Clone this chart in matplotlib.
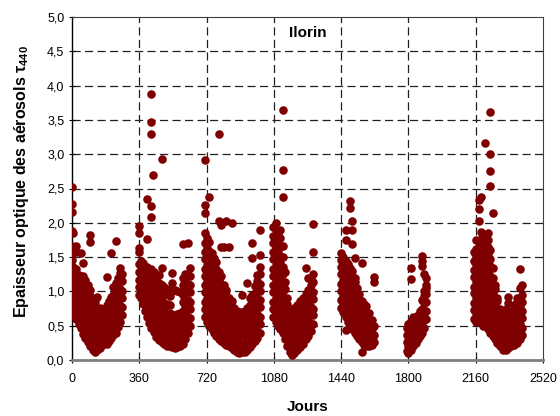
import matplotlib
matplotlib.use("Agg")
import matplotlib.pyplot as plt
from matplotlib.ticker import FixedLocator, FuncFormatter

plt.rcParams['font.family'] = ['Liberation Sans', 'DejaVu Sans']
plt.rcParams['mathtext.fontset'] = 'custom'
plt.rcParams['mathtext.bf'] = 'Liberation Sans:bold'
plt.rcParams['mathtext.rm'] = 'Liberation Sans'

# ---- data: day columns and AOD (tau 440) readings per season ----
days_1 = [0, 6, 14, 24, 35, 47, 60, 72, 85, 98, 110, 122, 135, 148, 160, 172, 185, 198, 210, 222, 234, 246, 258, 270]
aod_1 = [
    [0.70, 0.83, 0.92, 1.06, 1.17, 1.31, 1.46, 1.55, 1.66, 1.88, 2.16, 2.27, 2.52],
    [0.77, 0.87, 1.01, 1.11, 1.25, 1.36, 1.85],
    [0.66, 0.79, 0.89, 1.03, 1.13, 1.27],
    [0.60, 0.71, 0.85, 0.95, 1.09, 1.19, 1.32, 1.57, 1.66],
    [0.52, 0.65, 0.75, 0.89, 0.99, 1.13, 1.24],
    [0.46, 0.57, 0.71, 0.81, 0.95, 1.05, 1.18, 1.56],
    [0.38, 0.51, 0.61, 0.75, 0.85, 0.99, 1.09, 1.22, 1.41],
    [0.32, 0.43, 0.57, 0.67, 0.81, 0.91, 1.05, 1.16],
    [0.26, 0.39, 0.49, 0.63, 0.73, 0.87, 0.97, 1.10],
    [0.20, 0.31, 0.45, 0.55, 0.69, 0.79, 0.93, 1.02, 1.72, 1.82],
    [0.15, 0.28, 0.38, 0.52, 0.62, 0.76, 0.88],
    [0.12, 0.23, 0.37, 0.47, 0.61, 0.71, 0.84],
    [0.14, 0.27, 0.37, 0.51, 0.61, 0.74, 0.92],
    [0.18, 0.29, 0.43, 0.53, 0.67, 0.76],
    [0.22, 0.35, 0.45, 0.59, 0.70],
    [0.25, 0.36, 0.50, 0.60, 0.73],
    [0.24, 0.37, 0.47, 0.61, 0.71, 0.80, 1.21],
    [0.28, 0.39, 0.53, 0.63, 0.77, 0.86],
    [0.32, 0.45, 0.55, 0.69, 0.79, 0.92, 1.56],
    [0.36, 0.47, 0.61, 0.71, 0.85, 0.95, 1.06],
    [0.40, 0.53, 0.63, 0.77, 0.87, 1.01, 1.12, 1.74],
    [0.48, 0.59, 0.73, 0.83, 0.97, 1.07, 1.20],
    [0.56, 0.69, 0.79, 0.93, 1.03, 1.17, 1.27, 1.34],
    [0.66, 0.77, 0.91, 1.01, 1.15, 1.26],
]

days_2 = [360, 368, 378, 390, 402, 414, 425, 432, 438, 452, 466, 480, 494, 508, 522, 536, 550, 564, 578, 592, 605, 618, 630]
aod_2 = [
    [0.95, 1.07, 1.16, 1.29, 1.40, 1.58, 1.63, 1.85, 1.96],
    [0.90, 1.00, 1.14, 1.24, 1.37, 1.45],
    [0.82, 0.95, 1.04, 1.19, 1.29, 1.41],
    [0.72, 0.83, 0.97, 1.07, 1.21, 1.33],
    [0.62, 0.75, 0.85, 0.99, 1.09, 1.23, 1.35, 1.77, 2.35],
    [0.54, 0.65, 0.79, 0.89, 1.03, 1.13, 1.27],
    [0.47, 0.60, 0.70, 0.84, 0.94, 1.08, 1.18, 1.33, 2.09, 2.24, 3.30, 3.47, 3.88],
    [2.69],
    [0.41, 0.52, 0.66, 0.76, 0.90, 1.00, 1.14, 1.28],
    [0.34, 0.47, 0.57, 0.71, 0.81, 0.95, 1.05, 1.18],
    [0.29, 0.40, 0.54, 0.64, 0.78, 0.88, 1.02, 1.12, 1.24],
    [0.26, 0.39, 0.49, 0.63, 0.73, 0.87, 0.97, 1.10, 1.34, 2.93],
    [0.23, 0.34, 0.48, 0.58, 0.72, 0.82, 0.96, 1.07],
    [0.21, 0.34, 0.44, 0.58, 0.68, 0.82, 0.96],
    [0.20, 0.31, 0.45, 0.55, 0.69, 0.80, 0.93, 1.04],
    [0.19, 0.32, 0.42, 0.56, 0.66, 1.00, 1.12, 1.27],
    [0.18, 0.29, 0.43, 0.53, 0.65, 1.02],
    [0.19, 0.32, 0.42, 0.56, 0.67, 1.00],
    [0.21, 0.32, 0.46, 0.56, 0.69, 0.99],
    [0.24, 0.37, 0.47, 0.61, 0.71, 0.85, 0.95, 1.09, 1.20, 1.69],
    [0.30, 0.41, 0.55, 0.65, 0.79, 0.89, 1.03, 1.13, 1.25],
    [0.40, 0.53, 0.63, 0.77, 0.87, 1.01, 1.11, 1.24, 1.70],
    [0.50, 0.61, 0.75, 0.85, 0.99, 1.09, 1.23, 1.34],
]

days_3 = [712, 722, 735, 748, 760, 772, 785, 798, 812, 826, 840, 854, 868, 882, 896, 910, 924, 938, 952, 964, 978, 992, 1005]
aod_3 = [
    [0.62, 0.75, 0.85, 0.99, 1.09, 1.23, 1.33, 1.47, 1.57, 1.71, 1.85, 2.14, 2.26, 2.91],
    [0.56, 0.67, 0.81, 0.91, 1.05, 1.15, 1.29, 1.39, 1.53, 1.63, 1.78],
    [0.50, 0.63, 0.73, 0.87, 0.97, 1.11, 1.21, 1.35, 1.45, 1.59, 1.72, 2.38],
    [0.45, 0.56, 0.70, 0.80, 0.94, 1.04, 1.18, 1.28, 1.42, 1.56],
    [0.40, 0.53, 0.63, 0.77, 0.87, 1.01, 1.11, 1.25, 1.35, 1.48],
    [0.35, 0.46, 0.60, 0.70, 0.84, 0.94, 1.08, 1.18, 1.32, 1.43],
    [0.31, 0.44, 0.54, 0.68, 0.78, 0.92, 1.02, 1.16, 1.28, 2.02, 3.29],
    [0.28, 0.39, 0.53, 0.63, 0.77, 0.87, 1.01, 1.11, 1.22, 1.65, 1.97],
    [0.25, 0.38, 0.48, 0.62, 0.72, 0.86, 0.96, 1.09, 1.65],
    [0.22, 0.33, 0.47, 0.57, 0.71, 0.81, 0.95, 1.02, 2.02],
    [0.20, 0.33, 0.43, 0.57, 0.67, 0.81, 0.90, 1.64],
    [0.18, 0.29, 0.43, 0.53, 0.67, 0.77, 0.86, 2.00],
    [0.15, 0.28, 0.38, 0.52, 0.62, 0.76],
    [0.12, 0.23, 0.37, 0.47, 0.61, 0.72],
    [0.10, 0.23, 0.33, 0.47, 0.57, 0.70],
    [0.11, 0.22, 0.36, 0.46, 0.60, 0.70, 0.95],
    [0.12, 0.25, 0.35, 0.49, 0.59, 0.72],
    [0.15, 0.26, 0.40, 0.50, 0.64, 0.76, 1.12],
    [0.19, 0.32, 0.42, 0.56, 0.66, 0.80, 0.91],
    [0.23, 0.34, 0.48, 0.58, 0.72, 0.82, 0.95, 1.48, 1.70],
    [0.27, 0.40, 0.50, 0.64, 0.74, 0.88, 0.98, 1.08],
    [0.32, 0.43, 0.57, 0.67, 0.81, 0.91, 1.05, 1.15, 1.24],
    [0.40, 0.53, 0.63, 0.77, 0.87, 1.01, 1.11, 1.25, 1.36, 1.53, 1.90],
]

days_4 = [1078, 1090, 1102, 1115, 1128, 1140, 1152, 1165, 1178, 1190, 1205, 1220, 1235, 1250, 1264, 1278, 1290]
aod_4 = [
    [0.62, 0.75, 0.85, 0.99, 1.09, 1.23, 1.33, 1.47, 1.57, 1.71, 1.81, 1.94],
    [0.56, 0.67, 0.81, 0.91, 1.05, 1.15, 1.29, 1.39, 1.53, 1.63, 1.77, 1.90, 2.00],
    [0.50, 0.63, 0.73, 0.87, 0.97, 1.11, 1.21, 1.35, 1.45, 1.59, 1.69, 1.84],
    [0.45, 0.56, 0.70, 0.80, 0.94, 1.04, 1.18, 1.28, 1.42, 1.52, 1.66, 1.78, 1.90],
    [0.40, 0.53, 0.63, 0.77, 0.87, 1.01, 1.11, 1.25, 1.35, 1.50, 1.66, 2.37, 2.77, 3.65],
    [0.30, 0.41, 0.55, 0.65, 0.79, 0.89, 1.03, 1.13, 1.28],
    [0.20, 0.33, 0.43, 0.57, 0.67, 0.81, 0.90],
    [0.12, 0.23, 0.37, 0.47, 0.61, 0.72],
    [0.07, 0.20, 0.30, 0.44, 0.54, 0.68],
    [0.10, 0.21, 0.35, 0.45, 0.59, 0.70, 0.76],
    [0.14, 0.27, 0.37, 0.51, 0.61, 0.75, 0.80],
    [0.19, 0.30, 0.44, 0.54, 0.68, 0.78, 0.86],
    [0.24, 0.37, 0.47, 0.61, 0.71, 0.85, 0.90],
    [0.30, 0.41, 0.55, 0.65, 0.79, 0.89, 0.96, 1.34],
    [0.35, 0.48, 0.58, 0.72, 0.82, 0.96, 1.02, 1.20],
    [0.42, 0.53, 0.67, 0.77, 0.91, 1.01, 1.10, 1.20],
    [0.52, 0.65, 0.75, 0.89, 0.99, 1.13, 1.26, 1.58, 1.98],
]

days_5 = [1440, 1452, 1465, 1478, 1488, 1500, 1512, 1525, 1538, 1550, 1562, 1575, 1590, 1605, 1618]
aod_5 = [
    [0.76, 0.87, 1.01, 1.11, 1.25, 1.35, 1.46, 1.56],
    [0.70, 0.83, 0.93, 1.07, 1.17, 1.31, 1.41, 1.50],
    [0.44, 0.62, 0.73, 0.87, 0.97, 1.11, 1.21, 1.35, 1.45, 1.75, 1.90],
    [0.56, 0.69, 0.79, 0.93, 1.03, 1.17, 1.27, 1.40],
    [0.50, 0.61, 0.75, 0.85, 0.99, 1.09, 1.23, 1.34, 2.21, 2.32],
    [0.45, 0.58, 0.68, 0.82, 0.92, 1.06, 1.16, 1.30, 1.69, 1.90, 2.03],
    [0.40, 0.51, 0.65, 0.75, 0.89, 0.99, 1.13, 1.20, 1.49],
    [0.35, 0.48, 0.58, 0.72, 0.82, 0.96, 1.05],
    [0.30, 0.41, 0.55, 0.65, 0.79, 0.89, 0.96],
    [0.12, 0.26, 0.39, 0.49, 0.63, 0.73, 0.86, 1.42],
    [0.22, 0.33, 0.47, 0.57, 0.71, 0.82],
    [0.20, 0.33, 0.43, 0.57, 0.67, 0.78],
    [0.20, 0.31, 0.45, 0.55, 0.68],
    [0.22, 0.35, 0.45, 0.58],
    [0.26, 0.37, 0.50, 1.14, 1.21],
]

days_6 = [1790, 1800, 1812, 1825, 1838, 1850, 1862, 1872, 1882, 1893]
aod_6 = [
    [0.13, 0.26, 0.36, 0.46],
    [0.10, 0.21, 0.35, 0.45, 0.52],
    [0.15, 0.28, 0.38, 0.51, 0.57, 1.18, 1.34],
    [0.20, 0.31, 0.45, 0.55, 0.62],
    [0.25, 0.38, 0.48, 0.61],
    [0.30, 0.41, 0.55, 0.66],
    [0.35, 0.48, 0.58, 0.71],
    [0.40, 0.51, 0.65, 0.75, 0.88, 1.37, 1.45, 1.51],
    [0.46, 0.59, 0.69, 0.83, 0.94, 1.00, 1.25],
    [0.60, 0.71, 0.85, 0.96, 1.05, 1.09, 1.20],
]

days_7 = [2150, 2162, 2175, 2188, 2200, 2212, 2225, 2237, 2250, 2262, 2275, 2290, 2305, 2320, 2335, 2350, 2365, 2380, 2395, 2410]
aod_7 = [
    [0.60, 0.73, 0.83, 0.97, 1.07, 1.21, 1.31, 1.45, 1.58],
    [0.55, 0.66, 0.80, 0.90, 1.04, 1.14, 1.28, 1.38, 1.52, 1.62, 1.75],
    [0.56, 0.67, 0.77, 0.91, 1.01, 1.15, 1.25, 1.39, 1.49, 1.63, 1.74, 2.02, 2.20, 2.33],
    [0.55, 0.66, 0.80, 0.90, 1.04, 1.14, 1.28, 1.38, 1.52, 1.62, 1.76, 1.86, 2.37],
    [0.50, 0.63, 0.73, 0.87, 0.97, 1.11, 1.21, 1.35, 1.45, 1.59, 1.69, 1.80],
    [0.50, 0.61, 0.75, 0.85, 0.99, 1.09, 1.23, 1.33, 1.47, 1.57, 1.68, 3.16],
    [0.45, 0.58, 0.68, 0.82, 0.92, 1.06, 1.16, 1.30, 1.40, 1.54, 1.64, 1.75, 1.85],
    [0.40, 0.51, 0.65, 0.75, 0.89, 0.99, 1.13, 1.23, 1.37, 1.47, 1.60, 2.54, 2.76, 3.00, 3.61],
    [0.35, 0.48, 0.58, 0.72, 0.82, 0.96, 1.06, 1.20, 1.34, 2.14],
    [0.30, 0.41, 0.55, 0.65, 0.79, 0.89, 1.03, 1.10],
    [0.25, 0.38, 0.48, 0.62, 0.72, 0.86, 0.90],
    [0.20, 0.31, 0.45, 0.55, 0.69, 0.75],
    [0.15, 0.28, 0.38, 0.52, 0.62, 0.70],
    [0.15, 0.26, 0.40, 0.50, 0.64, 0.75],
    [0.18, 0.31, 0.41, 0.55, 0.65, 0.83, 0.92],
    [0.20, 0.31, 0.45, 0.55, 0.68, 0.72],
    [0.22, 0.35, 0.45, 0.59, 0.69, 0.80],
    [0.25, 0.36, 0.50, 0.60, 0.74, 0.84, 0.90],
    [0.30, 0.43, 0.53, 0.67, 0.77, 0.91, 1.05, 1.33],
    [0.36, 0.47, 0.61, 0.71, 0.85, 0.95, 1.10],
]

x_ticks = [0, 360, 720, 1080, 1440, 1800, 2160, 2520]
y_ticks = [0.0, 0.5, 1.0, 1.5, 2.0, 2.5, 3.0, 3.5, 4.0, 4.5, 5.0]

seasons = [(days_1, aod_1), (days_2, aod_2), (days_3, aod_3), (days_4, aod_4),
           (days_5, aod_5), (days_6, aod_6), (days_7, aod_7)]
xs, ys = [], []
for dlist, alist in seasons:
    for d, col in zip(dlist, alist):
        for v in col:
            xs.append(d)
            ys.append(v)

fig = plt.figure(figsize=(5.6, 4.16), dpi=100)
ax = fig.add_axes([72/560, 1-360/416, (543-72)/560, (360-17)/416])

ax.scatter(xs, ys, s=38, c='#7f0000', linewidths=0, zorder=3)

ax.set_xlim(0, 2520)
ax.set_ylim(0, 5)
ax.xaxis.set_major_locator(FixedLocator(x_ticks))
ax.yaxis.set_major_locator(FixedLocator(y_ticks))
ax.yaxis.set_major_formatter(FuncFormatter(lambda v, p: f"{v:.1f}".replace('.', ',')))
ax.xaxis.set_major_formatter(FuncFormatter(lambda v, p: f"{int(v)}"))

for v in x_ticks[1:-1]:
    ax.axvline(v, color='#202020', lw=0.9, dashes=(6.5, 3.5), zorder=1)
for v in y_ticks[1:-1]:
    ax.axhline(v, color='#202020', lw=0.9, dashes=(6.5, 3.5), zorder=1)

ax.spines['left'].set_color('black')
ax.spines['left'].set_linewidth(1.0)
ax.spines['bottom'].set_color('#808080')
ax.spines['bottom'].set_linewidth(2.0)
ax.spines['top'].set_color('#404040')
ax.spines['top'].set_linewidth(0.8)
ax.spines['right'].set_color('#404040')
ax.spines['right'].set_linewidth(0.8)

ax.tick_params(axis='both', direction='inout', length=5, width=0.8, labelsize=9, colors='black')
ax.tick_params(axis='x', pad=7)
ax.tick_params(axis='y', pad=3)

ax.set_xlabel('Jours', fontsize=11, fontweight='bold')
ax.xaxis.set_label_coords(0.5, -0.118)
ax.set_ylabel(r'Epaisseur optique des aérosols τ$_{\mathbf{440}}$', fontsize=11.5, fontweight='bold')
ax.yaxis.set_label_coords(-0.088, 0.52)

ax.text(1264, 4.77, 'Ilorin', fontsize=11, fontweight='bold', ha='center', va='center')

fig.savefig('out.png', dpi=100)
